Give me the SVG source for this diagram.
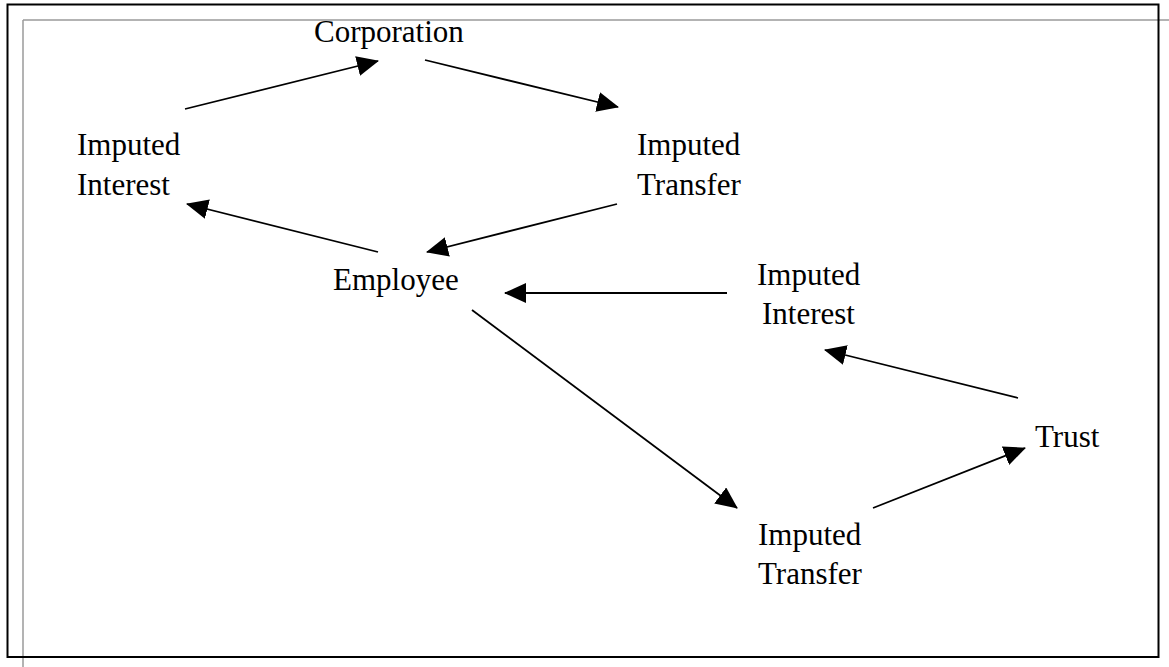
<svg xmlns="http://www.w3.org/2000/svg" width="1169" height="667" viewBox="0 0 1169 667">
  <style>
    .lbl { font-family: "Liberation Serif", "Times New Roman", serif; font-size: 31px; fill: #000; }
    .conn line { stroke: #000; stroke-width: 1.8; marker-end: url(#arrow); }
    .frame { fill: none; stroke: #000; stroke-width: 2; }
    .guide { stroke: #9a9a9a; stroke-width: 1.5; fill: none; }
  </style>
  <defs>
    <marker id="arrow" markerUnits="userSpaceOnUse" markerWidth="22" markerHeight="20" refX="21" refY="10" orient="auto">
      <path d="M0,0 L22,10 L0,20 Z" fill="#000"/>
    </marker>
    <clipPath id="clipCorp">
      <rect x="290" y="20" width="175" height="40"/>
    </clipPath>
  </defs>
  <rect width="1169" height="667" fill="#fff"/>
  <g id="frame">
    <line class="guide" x1="23" y1="20" x2="1169" y2="20"/>
    <line class="guide" x1="23" y1="20" x2="23" y2="667"/>
    <rect class="frame" x="7.5" y="4.5" width="1151" height="652.5"/>
  </g>
  <g id="node-corporation">
    <text class="lbl" x="314" y="42" clip-path="url(#clipCorp)">Corporation</text>
  </g>
  <g id="node-imputed-interest-1">
    <text class="lbl" x="77" y="155">Imputed</text>
    <text class="lbl" x="77" y="195">Interest</text>
  </g>
  <g id="node-imputed-transfer-1">
    <text class="lbl" x="637" y="155">Imputed</text>
    <text class="lbl" x="637" y="195">Transfer</text>
  </g>
  <g id="node-employee">
    <text class="lbl" x="333" y="290">Employee</text>
  </g>
  <g id="node-imputed-interest-2">
    <text class="lbl" x="757" y="285">Imputed</text>
    <text class="lbl" x="762" y="324">Interest</text>
  </g>
  <g id="node-trust">
    <text class="lbl" x="1035" y="447">Trust</text>
  </g>
  <g id="node-imputed-transfer-2">
    <text class="lbl" x="758" y="545">Imputed</text>
    <text class="lbl" x="758" y="584">Transfer</text>
  </g>
  <g id="connectors" class="conn">
    <line x1="185" y1="109" x2="378" y2="61"/>
    <line x1="425" y1="60" x2="618" y2="107"/>
    <line x1="617" y1="204" x2="427" y2="252"/>
    <line x1="378" y1="252" x2="187" y2="204"/>
    <line x1="727" y1="293" x2="505" y2="293"/>
    <line x1="472" y1="310" x2="737" y2="508"/>
    <line x1="873" y1="508" x2="1025" y2="448"/>
    <line x1="1018" y1="398" x2="825" y2="350"/>
  </g>
</svg>
